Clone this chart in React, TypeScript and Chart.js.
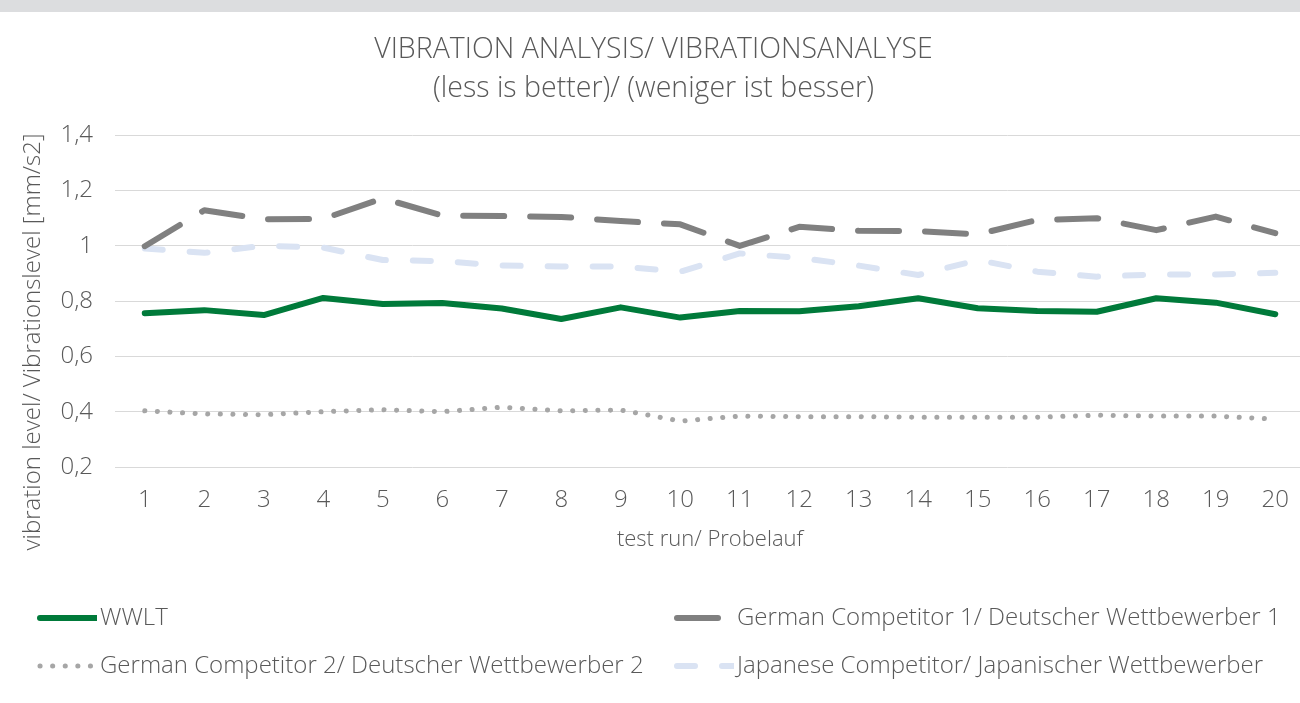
import React, { useEffect, useRef } from 'react';
import { Chart, registerables } from 'chart.js';

Chart.register(...registerables);

// ---------- data ----------
const CATEGORIES = ['1', '2', '3', '4', '5', '6', '7', '8', '9', '10', '11', '12', '13', '14', '15', '16', '17', '18', '19', '20'];

const WWLT = [0.756, 0.767, 0.749, 0.811, 0.789, 0.793, 0.773, 0.735, 0.777, 0.740, 0.764, 0.763, 0.781, 0.810, 0.774, 0.764, 0.761, 0.810, 0.794, 0.752];
const GERMAN_1 = [0.998, 1.128, 1.095, 1.097, 1.171, 1.109, 1.107, 1.104, 1.089, 1.077, 0.999, 1.068, 1.054, 1.053, 1.041, 1.093, 1.099, 1.056, 1.105, 1.045];
const GERMAN_2 = [0.403, 0.392, 0.389, 0.400, 0.407, 0.400, 0.416, 0.403, 0.406, 0.366, 0.384, 0.382, 0.382, 0.380, 0.380, 0.380, 0.387, 0.384, 0.384, 0.373];
const JAPANESE = [0.990, 0.974, 1.000, 0.993, 0.948, 0.944, 0.928, 0.925, 0.925, 0.906, 0.972, 0.956, 0.928, 0.894, 0.948, 0.906, 0.888, 0.896, 0.896, 0.902];

const SERIES_NAMES = [
  'WWLT',
  'German Competitor 1/ Deutscher Wettbewerber 1',
  'German Competitor 2/ Deutscher Wettbewerber 2',
  'Japanese Competitor/ Japanischer Wettbewerber',
];

const Y_MIN = 0.2;
const Y_MAX = 1.4;
const Y_STEP = 0.2;

const TITLE_LINES = ['VIBRATION ANALYSIS/ VIBRATIONSANALYSE', '(less is better)/ (weniger ist besser)'];
const X_TITLE = 'test run/ Probelauf';
const Y_TITLE = 'vibration level/ Vibrationslevel [mm/s2]';

// ---------- style ----------
const FONT = '"Open Sans", "DejaVu Sans", sans-serif';
const TEXT = '#595959';
const W = 1308;
const H = 703;

const topBarPlugin = {
  id: 'topBar',
  beforeDraw(chart: any) {
    const ctx = chart.ctx;
    ctx.save();
    ctx.fillStyle = '#ffffff';
    ctx.fillRect(0, 0, chart.width, chart.height);
    ctx.fillStyle = '#dcdddf';
    ctx.fillRect(0, 0, chart.width, 12);
    ctx.restore();
  },
};

const yTitlePlugin = {
  id: 'yTitle',
  afterDraw(chart: any) {
    const ctx = chart.ctx;
    ctx.save();
    ctx.translate(33, 342);
    ctx.rotate(-Math.PI / 2);
    ctx.font = `300 24px ${FONT}`;
    ctx.fillStyle = TEXT;
    ctx.textAlign = 'center';
    ctx.textBaseline = 'middle';
    ctx.fillText(Y_TITLE, 0, 0);
    ctx.restore();
  },
};

const legendPlugin = {
  id: 'gridLegend',
  afterDraw(chart: any) {
    const ctx = chart.ctx;
    const cols = [40, 677];
    const rows = [618, 666];
    const sample = 57;
    chart.data.datasets.forEach((ds: any, i: number) => {
      const x = cols[i % 2];
      const y = rows[Math.floor(i / 2)];
      ctx.save();
      ctx.beginPath();
      ctx.rect(x - 4, y - 10, sample + 4, 20);
      ctx.clip();
      ctx.strokeStyle = ds.borderColor;
      ctx.lineWidth = ds.borderWidth;
      ctx.lineCap = ds.borderCapStyle || 'round';
      ctx.setLineDash(ds.borderDash || []);
      ctx.beginPath();
      ctx.moveTo(x, y);
      ctx.lineTo(x + sample, y);
      ctx.stroke();
      ctx.restore();
      ctx.save();
      ctx.font = `300 24px ${FONT}`;
      ctx.fillStyle = TEXT;
      ctx.textAlign = 'left';
      ctx.textBaseline = 'middle';
      ctx.fillText(ds.label, x + sample + 3, y);
      ctx.restore();
    });
  },
};

export default function App() {
  const ref = useRef<HTMLCanvasElement | null>(null);

  useEffect(() => {
    if (!ref.current) return;
    const chart = new Chart(ref.current, {
      type: 'line',
      data: {
        labels: CATEGORIES,
        datasets: [
          {
            label: SERIES_NAMES[0],
            data: WWLT,
            borderColor: '#007a3a',
            borderWidth: 6,
            borderCapStyle: 'round',
            borderJoinStyle: 'round',
            pointRadius: 0,
            tension: 0,
          },
          {
            label: SERIES_NAMES[1],
            data: GERMAN_1,
            borderColor: '#808080',
            borderWidth: 6,
            borderDash: [41, 26],
            borderCapStyle: 'round',
            borderJoinStyle: 'round',
            pointRadius: 0,
            tension: 0,
          },
          {
            label: SERIES_NAMES[2],
            data: GERMAN_2,
            borderColor: '#a6a6a6',
            borderWidth: 5,
            borderDash: [0.1, 12.5],
            borderCapStyle: 'round',
            borderJoinStyle: 'round',
            pointRadius: 0,
            tension: 0,
          },
          {
            label: SERIES_NAMES[3],
            data: JAPANESE,
            borderColor: '#dae3f3',
            borderWidth: 6,
            borderDash: [18, 27],
            borderCapStyle: 'round',
            borderJoinStyle: 'round',
            pointRadius: 0,
            tension: 0,
          },
        ],
      },
      options: {
        responsive: false,
        animation: false,
        devicePixelRatio: 1,
        layout: { padding: { left: 0, right: 1, top: 0, bottom: 146 } },
        plugins: {
          legend: { display: false },
          tooltip: { enabled: false },
          title: {
            display: true,
            text: TITLE_LINES,
            color: TEXT,
            font: { family: FONT, size: 28.5, weight: '300', lineHeight: 39 / 28.5 },
            padding: { top: 30.5, bottom: 26.5 },
          },
        },
        scales: {
          x: {
            offset: true,
            grid: { display: false, drawTicks: false, offset: true },
            border: { display: false },
            ticks: { color: TEXT, font: { family: FONT, size: 24, weight: '300' }, padding: 19, maxRotation: 0, autoSkip: false },
            title: {
              display: true,
              text: X_TITLE,
              color: TEXT,
              font: { family: FONT, size: 22, weight: '300' },
              padding: { top: 0, bottom: 4 },
            },
            afterFit: (s: any) => { s.height = 90; },
          },
          y: {
            min: Y_MIN,
            max: Y_MAX,
            grid: { color: '#d9d9d9', lineWidth: 1, drawTicks: false },
            border: { display: false },
            ticks: {
              stepSize: Y_STEP,
              color: TEXT,
              font: { family: FONT, size: 24, weight: '300' },
              padding: 22,
              callback: (v: any) => String(Math.round(Number(v) * 10) / 10).replace('.', ','),
            },
            afterFit: (s: any) => { s.width = 115; },
          },
        },
      },
      plugins: [topBarPlugin, yTitlePlugin, legendPlugin],
    } as any);
    return () => chart.destroy();
  }, []);

  return (
    <div style={{ position: 'fixed', left: 0, top: 0, width: 1300, height: 703, overflow: 'hidden', background: '#fff' }}>
      <canvas ref={ref} width={W} height={H} style={{ width: W, height: H, display: 'block' }} />
    </div>
  );
}
